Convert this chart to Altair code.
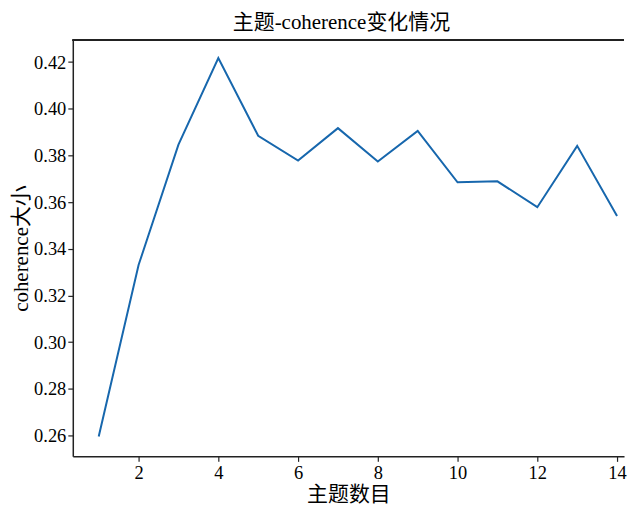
import altair as alt
import pandas as pd

topics = list(range(1, 15))
coherence = [0.2595, 0.3330, 0.3846, 0.4217, 0.3884, 0.3778, 0.3917,
             0.3774, 0.3905, 0.3685, 0.3689, 0.3578, 0.3841, 0.3540]
x_ticks = [2, 4, 6, 8, 10, 12, 14]
y_ticks = [0.26, 0.28, 0.30, 0.32, 0.34, 0.36, 0.38, 0.40, 0.42]

df = pd.DataFrame({"topics": topics, "coherence": coherence})

FONT = "Liberation Serif, Times New Roman, Noto Sans CJK SC, serif"
W, H = 553, 418

xscale = alt.Scale(domain=[0.35, 14.175], nice=False, zero=False)
yscale = alt.Scale(domain=[0.251, 0.4296], nice=False, zero=False)

line = alt.Chart(df).mark_line(color="#1767ad", strokeWidth=2, clip=True).encode(
    x=alt.X("topics:Q", scale=xscale,
            axis=alt.Axis(values=x_ticks, title="主题数目", format="d")),
    y=alt.Y("coherence:Q", scale=yscale,
            axis=alt.Axis(values=y_ticks, title="coherence大小", format=".2f")),
)

# top spine of the frame
top_spine = alt.Chart(df).mark_rule(color="#222222", strokeWidth=1.2).encode(
    x=alt.value(0), x2=alt.value(W), y=alt.value(0.5)
)

chart = (
    alt.layer(line, top_spine)
    .properties(
        width=W,
        height=H,
        title=alt.TitleParams("主题-coherence变化情况", fontSize=21, font=FONT,
                              fontWeight="normal", color="#000000", offset=7,
                              dx=-7),
        padding={"left": 2, "top": 2, "right": 4, "bottom": 0},
    )
    .configure_view(stroke="white", strokeOpacity=0, strokeWidth=0)
    .configure_axis(
        labelFont=FONT, titleFont=FONT, labelFontSize=18.5, titleFontSize=21,
        titleFontWeight="normal", labelColor="#000000", titleColor="#000000",
        domainColor="#222222", domainWidth=1.5, tickColor="#222222",
        tickWidth=1.2, tickSize=5, grid=False, labelPadding=2, titlePadding=2,
    )
)

chart.save("out.html", embed_options={"renderer": "svg", "actions": False})
